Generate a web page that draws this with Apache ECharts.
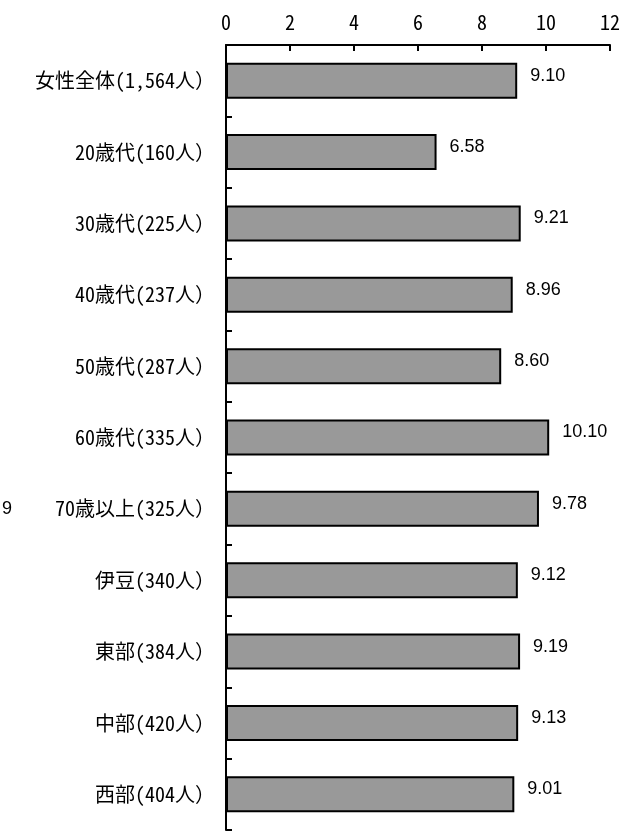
<!DOCTYPE html>
<html>
<head>
<meta charset="utf-8">
<script src="https://cdn.jsdelivr.net/npm/echarts@6/dist/echarts.min.js"></script>
<style>
    html, body { margin: 0; padding: 0; background: #fff; }
    #chart { width: 635px; height: 831px; }
</style>
</head>
<body>
<div id="chart"></div>
<script>
const categories = ['女性全体(1,564人）', '20歳代(160人）', '30歳代(225人）', '40歳代(237人）', '50歳代(287人）', '60歳代(335人）', '70歳以上(325人）', '伊豆(340人）', '東部(384人）', '中部(420人）', '西部(404人）']
const values = [9.10, 6.58, 9.21, 8.96, 8.60, 10.10, 9.78, 9.12, 9.19, 9.13, 9.01]
const axisMin = 0
const axisMax = 12
const axisStep = 2

const gothic = '"Noto Sans Mono CJK JP", "Noto Sans CJK JP"'
const chart = echarts.init(document.getElementById('chart'), null, { renderer: 'canvas' })

chart.setOption({
    animation: false,
    grid: { left: 226, right: 25, top: 45, bottom: 1, containLabel: false },
    xAxis: {
        type: 'value',
        position: 'top',
        min: axisMin,
        max: axisMax,
        interval: axisStep,
        axisLine: { show: true, lineStyle: { color: '#000', width: 2 } },
        axisTick: { show: true, inside: true, length: 6, lineStyle: { color: '#000', width: 2 } },
        splitLine: { show: false },
        axisLabel: { color: '#000', fontSize: 20, fontFamily: gothic, margin: 13 }
    },
    yAxis: {
        type: 'category',
        inverse: true,
        data: categories,
        axisLine: { show: true, lineStyle: { color: '#000', width: 2 } },
        axisTick: { show: true, inside: true, length: 6, lineStyle: { color: '#000', width: 2 } },
        axisLabel: { color: '#000', fontSize: 20, fontFamily: gothic, margin: 11 }
    },
    series: [{
        type: 'bar',
        data: values,
        barWidth: 36,
        itemStyle: { color: '#999999', borderColor: '#000', borderWidth: 2 },
        label: {
            show: true,
            position: 'right',
            distance: 13,
            offset: [0, -5],
            color: '#000',
            fontSize: 18,
            fontFamily: 'Liberation Sans',
            formatter: p => p.value.toFixed(2)
        }
    }],
    graphic: [{
        type: 'text',
        left: 2,
        top: 500,
        style: { text: '9', fontSize: 18, fontFamily: 'Liberation Sans', fill: '#000' }
    }]
})
</script>
</body>
</html>
